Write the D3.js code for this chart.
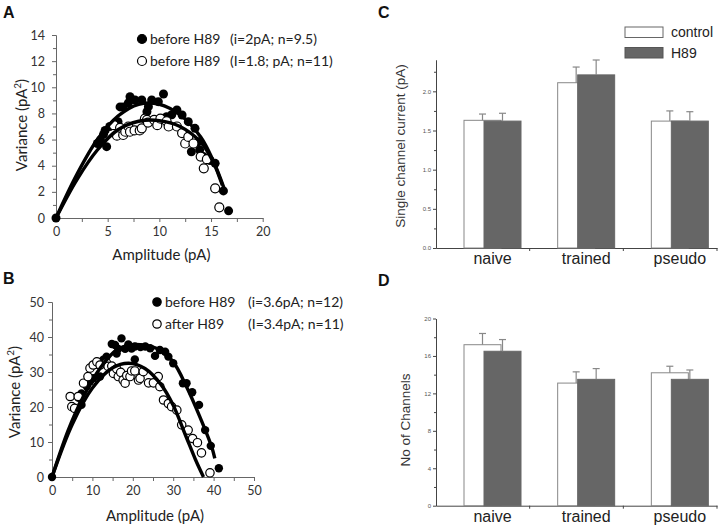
<!DOCTYPE html>
<html><head><meta charset="utf-8">
<script src="https://cdn.jsdelivr.net/npm/d3@7"></script>
<style>
body{margin:0;background:#fff;}
svg{display:block;}
</style></head>
<body>
<svg id="c" width="720" height="527"></svg>
<script>
// ---------- Panel A data ----------
const aFilled = [[0,0],[4.0,5.7],[4.3,5.97],[4.6,6.4],[4.75,6.7],[4.9,5.46],[5.2,7.0],[5.7,7.2],[6.0,7.37],[6.2,8.5],[6.5,8.5],[7.0,8.8],[7.16,9.28],[7.65,9.03],[8.3,9.03],[8.8,8.13],[8.94,8.52],[9.26,9.03],[9.9,8.9],[10.4,9.49],[10.7,7.75],[11.2,7.9],[11.7,8.26],[12.2,7.88],[12.8,7.37],[13.1,5.07],[13.45,6.86],[13.8,5.84],[13.9,5.2],[14.26,4.7],[14.9,4.4],[15.4,4.18],[16.2,2.07],[16.7,0.55]];
const aHollow = [[5.6,7.1],[5.9,6.3],[6.2,6.9],[6.5,6.35],[6.7,6.6],[7.0,7.0],[7.16,6.6],[7.6,6.7],[8.1,6.7],[8.3,6.86],[8.6,7.6],[8.8,7.5],[8.9,7.3],[9.5,7.5],[9.8,7.1],[10.1,7.6],[10.7,7.4],[10.9,7.0],[11.7,7.0],[12.2,6.5],[12.5,5.7],[12.8,6.2],[13.3,5.7],[14.0,4.7],[14.3,3.8],[14.6,4.5],[15.4,2.27],[15.8,0.82]];
const aFitFilled = [[0,0],[2,3.3],[4,6.0],[6,7.8],[8,8.7],[10,8.7],[12,7.9],[14,6.2],[15.2,4.4],[16.3,2.2]];
const aFitHollow = [[0,0],[2,2.9],[4,5.2],[6,6.75],[8,7.4],[10,7.45],[12,7.0],[14,5.8],[15.2,4.3],[16.1,2.5]];
const aXTicks = [0,5,10,15,20];
const aYTicks = [0,2,4,6,8,10,12,14];
const aLegend = [["before H89","(i=2pA; n=9.5)"],["before H89","(I=1.8; pA; n=11)"]];

// ---------- Panel B data ----------
const bFilled = [[0,0],[6.6,22.6],[7.3,20.6],[7.3,23.9],[8.6,25.9],[9.4,27.3],[10.2,28.2],[11.5,32.0],[11.9,28.7],[12.7,33.5],[13.5,34.4],[14.8,38.0],[15.6,37.7],[16.0,35.3],[16.4,36.6],[17.2,39.6],[18.1,36.6],[18.9,37.9],[19.7,36.7],[20.5,37.3],[20.5,33.6],[21.9,37.1],[23.1,37.3],[24.3,36.8],[25.5,34.6],[26.7,36.3],[28.0,35.8],[28.8,34.4],[30.0,32.5],[32.4,26.8],[33.3,26.8],[34.7,24.2],[36.4,20.6],[37.9,13.4],[39.3,8.9],[41.3,2.5]];
const bHollow = [[4.5,23.0],[4.9,20.1],[5.6,19.6],[6.5,23.0],[7.8,26.8],[8.9,28.7],[9.4,31.1],[10.2,32.0],[11.1,32.9],[11.9,32.0],[13.5,32.6],[13.9,31.6],[14.8,31.7],[15.2,29.6],[16.0,30.9],[16.4,28.7],[17.0,29.9],[17.6,27.7],[18.1,26.8],[18.5,29.0],[19.3,28.7],[19.7,30.3],[20.5,30.3],[21.4,27.7],[21.8,28.2],[22.6,30.1],[23.9,26.9],[25.1,26.9],[26.3,28.7],[26.7,25.8],[27.6,22.0],[28.8,21.0],[29.6,20.1],[30.9,19.1],[32.1,14.9],[33.7,13.4],[34.8,11.0],[36.0,9.8],[37.0,6.9],[39.1,1.2]];
const bFitFilled = [[0,0],[4,13.3],[7.3,21.9],[11.9,31.1],[16,36.3],[20,37.8],[23,37.6],[26.7,36.3],[30.0,32.9],[33.3,25.8],[36.6,17.2],[39.5,8.7],[40.3,5.3]];
const bFitHollow = [[0,0],[5,15.0],[10,25.4],[15,31.2],[19,32.5],[23,31.0],[27,26.4],[30,20.5],[33.2,11.5],[35.5,5],[37.5,0]];
const bXTicks = [0,10,20,30,40,50];
const bYTicks = [0,10,20,30,40,50];
const bLegend = [["before H89","(i=3.6pA; n=12)"],["after H89","(I=3.4pA; n=11)"]];

// ---------- Panels C, D data ----------
const groups = ["naive","trained","pseudo"];
const seriesNames = ["control","H89"];
const cControl = [1.63,2.11,1.62];
const cControlErr = [0.08,0.20,0.13];
const cH89 = [1.62,2.21,1.62];
const cH89Err = [0.10,0.19,0.12];
const cTicks = [0,0.5,1.0,1.5,2.0];
const dControl = [17.2,13.1,14.2];
const dControlErr = [1.2,1.2,0.7];
const dH89 = [16.5,13.5,13.5];
const dH89Err = [1.25,1.15,1.0];
const dTicks = [0,4,8,12,16,20];

const svg = d3.select("#c");
const LATO = "Lato, 'Open Sans', sans-serif";
const ARIAL = "'Liberation Sans', Arial, sans-serif";
const AXC = "#666";

function panelLetter(t,x,y){
  svg.append("text").attr("x",x).attr("y",y).text(t)
    .attr("font-family",ARIAL).attr("font-weight","bold").attr("font-size",16).attr("fill","#111");
}

function scatterPanel(o){
  const g = svg.append("g");
  const x = d3.scaleLinear().domain(o.xDom).range(o.xRange);
  const y = d3.scaleLinear().domain(o.yDom).range(o.yRange);
  // minor ticks
  const xAxis = d3.axisBottom(x).tickValues(o.xTicks).tickSize(4).tickPadding(5).tickSizeOuter(0);
  const yAxis = d3.axisLeft(y).tickValues(o.yTicks).tickSize(4).tickPadding(o.yPad).tickSizeOuter(0);
  const gx = g.append("g").attr("transform",`translate(0,${o.yRange[0]})`).call(xAxis);
  const gy = g.append("g").attr("transform",`translate(${o.xRange[0]},0)`).call(yAxis);
  const xm = d3.axisBottom(x).tickValues(o.xMinor).tickSize(4).tickFormat("").tickSizeOuter(0);
  const ym = d3.axisLeft(y).tickValues(o.yMinor).tickSize(3).tickFormat("").tickSizeOuter(0);
  g.append("g").attr("transform",`translate(0,${o.yRange[0]})`).call(xm);
  g.append("g").attr("transform",`translate(${o.xRange[0]},0)`).call(ym);
  g.selectAll(".domain, .tick line").attr("stroke",AXC).attr("stroke-width",1);
  g.selectAll(".tick text").attr("font-family",LATO).attr("font-size",12.5).attr("fill","#333");
  // points
  g.append("g").selectAll("circle").data(o.filled).join("circle")
    .attr("cx",d=>x(d[0])).attr("cy",d=>y(d[1])).attr("r",o.r).attr("fill","#000");
  g.append("g").selectAll("circle").data(o.hollow).join("circle")
    .attr("cx",d=>x(d[0])).attr("cy",d=>y(d[1])).attr("r",o.r).attr("fill","#fff")
    .attr("stroke","#000").attr("stroke-width",1.2);
  const line = d3.line().x(d=>x(d[0])).y(d=>y(d[1])).curve(d3.curveCatmullRom);
  [o.fit1,o.fit2].forEach(f=>{
    g.append("path").attr("d",line(f)).attr("fill","none").attr("stroke","#000").attr("stroke-width",3.4);
  });
  // axis titles
  g.append("text").attr("x",(o.xRange[0]+o.xRange[1])/2+2).attr("y",o.xTitleY).attr("text-anchor","middle")
    .attr("font-family",LATO).attr("font-size",15).attr("fill","#222").text("Amplitude (pA)");
  const yt = g.append("text").attr("transform",`translate(${o.yTitleX},${o.yTitleY}) rotate(-90)`)
    .attr("text-anchor","middle").attr("font-family",LATO).attr("font-size",15).attr("fill","#222");
  yt.append("tspan").text("Variance (pA");
  yt.append("tspan").text("2").attr("font-size",10).attr("dy",-6);
  yt.append("tspan").text(")").attr("dy",6);
  // legend
  o.legend.forEach((L,i)=>{
    const cy = o.legY + i*22;
    g.append("circle").attr("cx",o.legX).attr("cy",cy).attr("r",o.r)
      .attr("fill",i===0?"#000":"#fff").attr("stroke","#000").attr("stroke-width",1.2);
    g.append("text").attr("x",o.legX+8).attr("y",cy).attr("dy","0.35em").text(L[0])
      .attr("font-family",LATO).attr("font-size",14).attr("fill","#222");
    g.append("text").attr("x",o.legX2).attr("y",cy).attr("dy","0.35em").text(L[1])
      .attr("font-family",LATO).attr("font-size",14).attr("fill","#222");
  });
}

scatterPanel({
  xDom:[0,20], xRange:[56,262.7], yDom:[0,14], yRange:[218,35],
  xTicks:aXTicks, yTicks:aYTicks, yPad:7,
  xMinor:[2.5,7.5,12.5,17.5], yMinor:[1,3,5,7,9,11,13],
  filled:aFilled, hollow:aHollow, fit1:aFitFilled, fit2:aFitHollow, r:4.5,
  xTitleY:260, yTitleX:27, yTitleY:125,
  legend:aLegend, legX:142, legY:39, legX2:230
});
scatterPanel({
  xDom:[0,50], xRange:[52,254], yDom:[0,50], yRange:[477,302],
  xTicks:bXTicks, yTicks:bYTicks, yPad:4,
  xMinor:[5,15,25,35,45], yMinor:[5,15,25,35,45],
  filled:bFilled, hollow:bHollow, fit1:bFitFilled, fit2:bFitHollow, r:4.2,
  xTitleY:521, yTitleX:20, yTitleY:392,
  legend:bLegend, legX:157, legY:302, legX2:248
});

function barPanel(o){
  const g = svg.append("g");
  const x = d3.scaleBand().domain(groups).range([436,717]);
  const y = d3.scaleLinear().domain(o.yDom).range(o.yRange);
  const bw = 37, off0 = 28, off1 = 48;
  const yAxis = d3.axisLeft(y).tickValues(o.ticks).tickSize(3).tickPadding(2).tickSizeOuter(0)
    .tickFormat(o.fmt);
  const gy = g.append("g").attr("transform","translate(436,0)").call(yAxis);
  g.append("g").attr("transform","translate(436,0)")
    .call(d3.axisLeft(y).tickValues(o.minor).tickSize(2).tickFormat("").tickSizeOuter(0));
  const gx = g.append("g").attr("transform",`translate(0,${o.yRange[0]})`)
    .call(d3.axisBottom(x).tickValues([]).tickSizeOuter(0));
  g.append("g").selectAll("line").data(groups.slice(1).map(d=>x(d)).concat([717])).join("line")
    .attr("x1",d=>d).attr("x2",d=>d).attr("y1",o.yRange[0]).attr("y2",o.yRange[0]+3)
    .attr("stroke","#444");
  g.selectAll(".domain").attr("stroke","#444");
  g.selectAll(".tick line").attr("stroke","#444");
  g.selectAll(".tick text").attr("font-family",ARIAL).attr("font-size",6).attr("fill","#555");
  const series = [
    {vals:o.ctrl, err:o.ctrlErr, off:off0, fill:"#fff"},
    {vals:o.h89, err:o.h89Err, off:off1, fill:"#666"}
  ];
  series.forEach(s=>{
    const bg = g.append("g");
    bg.selectAll("rect").data(groups).join("rect")
      .attr("x",(d)=>x(d)+s.off).attr("width",bw)
      .attr("y",(d,i)=>y(s.vals[i])).attr("height",(d,i)=>y(0)-y(s.vals[i]))
      .attr("fill",s.fill).attr("stroke",s.fill==="#fff"?"#888":"#666").attr("stroke-width",1);
    bg.selectAll("line.e").data(groups).join("line").attr("class","e")
      .attr("x1",d=>x(d)+s.off+bw/2).attr("x2",d=>x(d)+s.off+bw/2)
      .attr("y1",(d,i)=>y(s.vals[i])).attr("y2",(d,i)=>y(s.vals[i]+s.err[i]))
      .attr("stroke","#888").attr("stroke-width",1.2);
    bg.selectAll("line.c").data(groups).join("line").attr("class","c")
      .attr("x1",d=>x(d)+s.off+bw/2-3.5).attr("x2",d=>x(d)+s.off+bw/2+3.5)
      .attr("y1",(d,i)=>y(s.vals[i]+s.err[i])).attr("y2",(d,i)=>y(s.vals[i]+s.err[i]))
      .attr("stroke","#888").attr("stroke-width",1.2);
  });
  g.selectAll("text.cat").data(groups).join("text").attr("class","cat")
    .attr("x",d=>x(d)+off0+ (off1+bw-off0)/2).attr("y",o.catY).attr("text-anchor","middle")
    .attr("font-family",ARIAL).attr("font-size",16).attr("fill","#222").text(d=>d);
  g.append("text").attr("transform",`translate(${o.ytX},${o.ytY}) rotate(-90)`)
    .attr("text-anchor","middle").attr("font-family",ARIAL).attr("font-size",13.5).attr("fill","#333").text(o.ytitle);
}

barPanel({yDom:[0,2.4], yRange:[248,60], ticks:cTicks, minor:[0.25,0.75,1.25,1.75,2.25],
  fmt:d3.format(".1f"), ctrl:cControl, ctrlErr:cControlErr, h89:cH89, h89Err:cH89Err,
  catY:264, ytX:405, ytY:146, ytitle:"Single channel current (pA)"});
barPanel({yDom:[0,20], yRange:[505.7,318.5], ticks:dTicks, minor:[2,6,10,14,18],
  fmt:d3.format("d"), ctrl:dControl, ctrlErr:dControlErr, h89:dH89, h89Err:dH89Err,
  catY:522, ytX:410, ytY:420, ytitle:"No of Channels"});

// legend for C
const legC = svg.append("g");
seriesNames.forEach((s,i)=>{
  legC.append("rect").attr("x",625).attr("y",27+i*20.5).attr("width",38).attr("height",10.5)
    .attr("fill",i===0?"#fff":"#666").attr("stroke",i===0?"#666":"#555").attr("stroke-width",1);
  legC.append("text").attr("x",671).attr("y",32+i*21).attr("dy","0.35em").text(s)
    .attr("font-family",ARIAL).attr("font-size",14).attr("fill","#222");
});

panelLetter("A",3,18);
panelLetter("B",3,284);
panelLetter("C",378,18);
panelLetter("D",378,286);
</script>
</body></html>
